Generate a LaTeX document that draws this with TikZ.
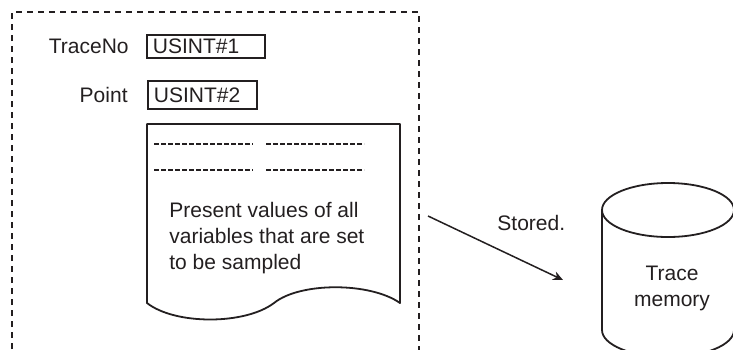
\documentclass[tikz,border=0pt]{standalone}
\usepackage{fontspec}
\setmainfont{Liberation Sans}
\usetikzlibrary{arrows.meta}
\definecolor{ink}{RGB}{35,31,32}
\tikzset{
  lbl/.style={font=\fontsize{10.5}{13}\selectfont, text=ink, inner sep=0pt},
  valbox/.style={draw=ink, line width=0.9pt, font=\fontsize{10.5}{13}\selectfont, text=ink,
    inner xsep=3pt, inner ysep=0pt, align=left},
  solidline/.style={draw=ink, line width=0.9pt},
  hyphrow/.style={draw=ink, line width=0.8pt, dash pattern=on 2.4pt off 1.1pt},
  frame/.style={draw=ink, line width=0.8pt, dash pattern=on 3pt off 2.5pt},
  arr/.style={draw=ink, line width=0.75pt, -{Stealth[length=5pt,width=4.5pt]}}
}
\begin{document}
\begin{tikzpicture}[x=0.5pt,y=-0.5pt]
\useasboundingbox (0,0) rectangle (733,349);
\clip (0,0) rectangle (733,349);
% dashed frame, open at the bottom
\draw[frame] (12,360) -- (12,12) -- (419,12) -- (419,360);
% labels and value boxes
\node[lbl, anchor=east] (traceno) at (129,46.5) {TraceNo};
\node[valbox, anchor=west, minimum height=11.5pt, text width=53pt] (usint1) at (146,46.5) {USINT\#1};
\node[lbl, anchor=east] (point) at (128,95) {Point};
\node[valbox, anchor=west, minimum height=14pt, text width=48.5pt] (usint2) at (147,95) {USINT\#2};
% document shape
\draw[solidline, line join=round] (147,124) -- (400,124) -- (400,303)
   .. controls (370,282) and (300,282) .. (274,303)
   .. controls (245,325) and (175,325) .. (147,303) -- cycle;
\draw[hyphrow] (154,144) -- (253,144);
\draw[hyphrow] (266,144) -- (364,144);
\draw[hyphrow] (154,170) -- (253,170);
\draw[hyphrow] (266,170) -- (364,170);
\node[lbl, anchor=west, align=left] (present) at (169,238)
  {Present values of all\\variables that are set\\to be sampled};
% cylinder
\draw[solidline] (602,210) -- (602,330) arc[start angle=180, end angle=0, x radius=66, y radius=27] -- (734,210);
\draw[solidline] (668,210) ellipse[x radius=66, y radius=27];
\node[lbl, align=center] (trace) at (672,288.5) {Trace\\memory};
% arrow
\coordinate (from) at (428,216);
\coordinate (to) at (563,280);
\draw[arr] (from) -- (to);
\node[lbl, anchor=west] (stored) at (497,223) {Stored.};
\end{tikzpicture}
\end{document}
